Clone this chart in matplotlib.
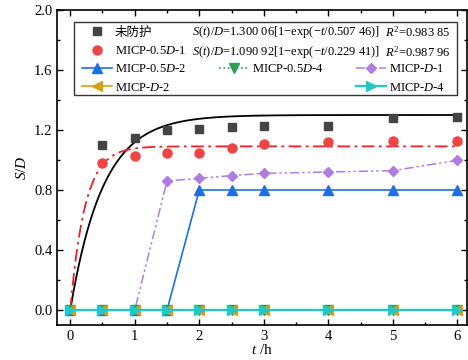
import numpy as np
import matplotlib
matplotlib.use("Agg")
import matplotlib.pyplot as plt
from matplotlib.lines import Line2D
from matplotlib.patches import Rectangle
from matplotlib.ticker import MultipleLocator

plt.rcParams['font.family'] = ['Liberation Serif', 'Noto Sans CJK SC', 'DejaVu Serif']
plt.rcParams['mathtext.fontset'] = 'custom'
plt.rcParams['mathtext.rm'] = 'Liberation Serif'
plt.rcParams['mathtext.it'] = 'Liberation Serif:italic'
plt.rcParams['font.size'] = 10

# sampling times (h)
t = [0, 0.5, 1, 1.5, 2, 2.5, 3, 4, 5, 6]

# S/D for each specimen
s_unprot = [0, 1.10, 1.144, 1.198, 1.204, 1.218, 1.227, 1.227, 1.280, 1.284]
s_05d1 = [0, 0.978, 1.029, 1.049, 1.049, 1.078, 1.109, 1.118, 1.127, 1.127]
s_05d2 = [0, 0, 0, 0, 0.80, 0.80, 0.80, 0.80, 0.80, 0.80]
s_05d4 = [0, 0, 0, 0, 0, 0, 0, 0, 0, 0]
s_d1 = [0, 0, 0, 0.86, 0.878, 0.896, 0.911, 0.92, 0.929, 0.998]
s_d2 = [0, 0, 0, 0, 0, 0, 0, 0, 0, 0]
s_d4 = [0, 0, 0, 0, 0, 0, 0, 0, 0, 0]

# exponential fits S(t)/D = a[1-exp(-t/b)]
fit_unprot = (1.30006, 0.50746, 0.98385)
fit_05d1 = (1.09092, 0.22941, 0.98796)

fig = plt.figure(figsize=(4.68, 3.6), dpi=100)
ax = fig.add_axes([0.1225, 0.0972, 0.8755, 0.875])

tt = np.linspace(0, 6, 400)
ax.plot(tt, fit_unprot[0] * (1 - np.exp(-tt / fit_unprot[1])), color='black', lw=1.3, zorder=3)
ax.plot(tt, fit_05d1[0] * (1 - np.exp(-tt / fit_05d1[1])), color='#ee2222', lw=1.3,
        ls=(0, (7, 2.5, 1.5, 2.5)), zorder=3)

h_unprot, = ax.plot(t, s_unprot, ls='none', marker='s', ms=6, color='#444444', zorder=4)
h_05d1, = ax.plot(t, s_05d1, ls='none', marker='o', ms=6.5, color='#ee4444', zorder=4)
h_d1, = ax.plot(t, s_d1, ls=(0, (6, 2, 1.5, 2, 1.5, 2)), lw=1.1, marker='D', ms=5,
                color='#b07ce0', zorder=4)
h_05d2, = ax.plot(t, s_05d2, ls='-', lw=1.2, marker='^', ms=6.5, color='#1f6fe0', zorder=5)
h_05d4, = ax.plot(t, s_05d4, ls=':', lw=1.2, marker='v', ms=6.5, color='#2e9e5e', zorder=5)
h_d2, = ax.plot(t, s_d2, ls='-', lw=1.2, marker='<', ms=6.5, color='#d4a017', zorder=6)
h_d4, = ax.plot(t, s_d4, ls='-', lw=1.6, marker='>', ms=6.5, color='#22c8c8', zorder=7)

ax.set_xlim(-0.2, 6.15)
ax.set_ylim(-0.1, 2.0)
ax.xaxis.set_major_locator(MultipleLocator(1))
ax.xaxis.set_minor_locator(MultipleLocator(0.5))
ax.yaxis.set_major_locator(MultipleLocator(0.4))
ax.yaxis.set_minor_locator(MultipleLocator(0.2))
ax.yaxis.set_major_formatter(matplotlib.ticker.FormatStrFormatter('%.1f'))
ax.tick_params(which='both', direction='in', top=True, right=True, labelsize=10.5, width=1)
ax.tick_params(which='major', length=4.5)
ax.tick_params(which='minor', length=2.5)
for sp in ax.spines.values():
    sp.set_linewidth(1.2)

ax.set_xlabel(r'$t$ /h', fontsize=11, labelpad=0)
ax.set_ylabel(r'$S/D$', fontsize=11, labelpad=4)

# legend box with the fitted equations
ax.add_patch(Rectangle((0.041, 0.730), 0.935, 0.233, transform=ax.transAxes,
                       fill=False, ec='#333333', lw=1, zorder=8))
blank = Line2D([], [], ls='none')
handles = [h_unprot, h_05d1, h_05d2, h_d2, blank, blank, h_05d4, blank, blank, blank, h_d1, h_d4]
labels = ['未防护', 'MICP-0.5$D$-1', 'MICP-0.5$D$-2', 'MICP-$D$-2', '', '', 'MICP-0.5$D$-4', '',
          '', '', 'MICP-$D$-1', 'MICP-$D$-4']
ax.legend(handles, labels, ncol=3, loc='upper left', bbox_to_anchor=(0.06, 0.947),
          frameon=False, fontsize=9, handlelength=2.4, handletextpad=0.25,
          columnspacing=2.6, labelspacing=0.5, borderpad=0, borderaxespad=0)

fits = [fit_unprot, fit_05d1]
rows_y = [0.930, 0.867]
for (a, b, r2), y in zip(fits, rows_y):
    sa = f'{a:.5f}'
    sb = f'{b:.5f}'
    sa = sa[:-2] + ' ' + sa[-2:]
    sb = sb[:-2] + ' ' + sb[-2:]
    sr = f'{r2:.5f}'
    sr = sr[:-2] + ' ' + sr[-2:]
    ax.text(0.329, y, rf'$S$($t$)/$D$={sa}[1−exp(−$t$/{sb})]', transform=ax.transAxes,
            fontsize=9, va='center', ha='left', zorder=9)
    ax.text(0.800, y, rf'$R^2$={sr}', transform=ax.transAxes,
            fontsize=9, va='center', ha='left', zorder=9)

fig.savefig('out.png', dpi=100)
